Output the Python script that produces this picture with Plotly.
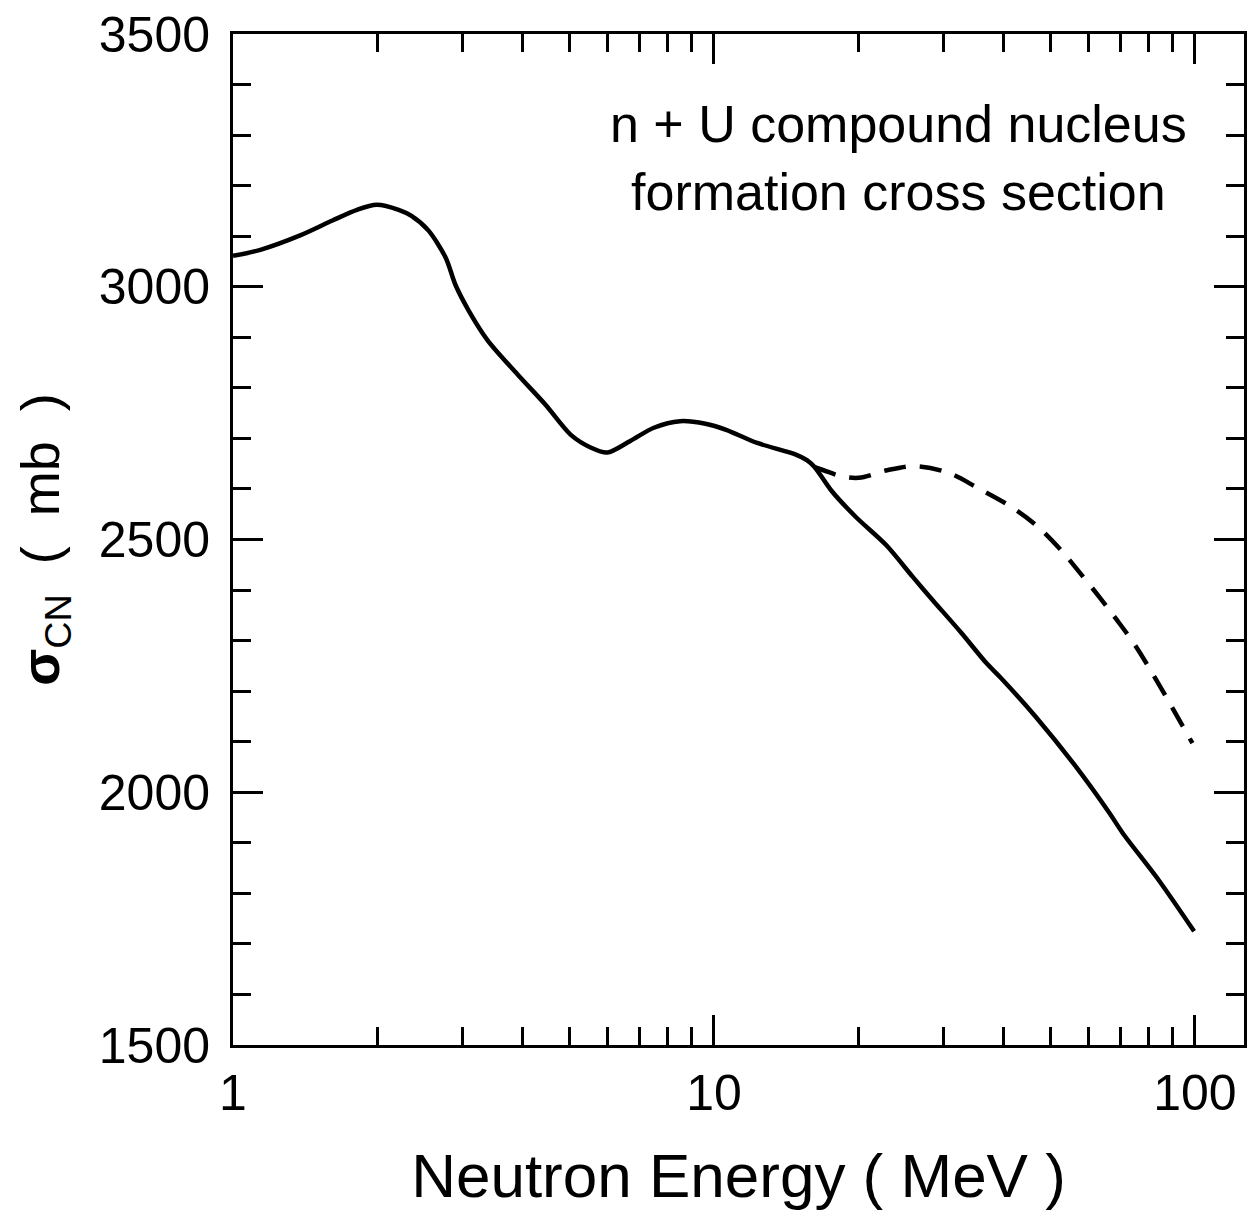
import plotly.graph_objects as go

# Solid curve: compound nucleus formation cross section
energy_solid = [1.0, 1.14, 1.375, 1.61, 1.81, 1.99, 2.21, 2.35, 2.55, 2.77, 2.90, 3.09, 3.39,
                3.91, 4.46, 5.04, 5.54, 6.0, 6.7, 7.5, 8.5, 9.6, 10.6, 12.3, 14.8, 15.6,
                16.2, 17.5, 19.7, 22.8, 25.9, 28.5, 32.7, 36.8, 39.5, 46.7, 56.2, 66.4,
                70.8, 84.1, 99.6]
sigma_solid = [3061, 3073, 3101, 3131, 3152, 3162, 3152, 3140, 3111, 3057, 3004, 2953, 2893,
               2826, 2767, 2707, 2682, 2672, 2695, 2721, 2734, 2729, 2717, 2691, 2668, 2657,
               2643, 2598, 2545, 2489, 2426, 2380, 2315, 2256, 2226, 2149, 2054, 1959,
               1919, 1826, 1725]

# Dashed curve: alternative high-energy branch
energy_dashed = [16.2, 16.9, 18.3, 20.0, 22.9, 26.1, 30.7, 35.5, 41.6, 46.9, 52.4, 57.0,
                 63.3, 68.8, 75.2, 81.6, 90.0, 98.8]
sigma_dashed = [2643, 2637, 2626, 2622, 2637, 2645, 2632, 2601, 2564, 2527, 2481, 2440,
                2386, 2341, 2290, 2235, 2165, 2097]

x_tickvals = [1, 10, 100]
x_ticktext = ["1", "10", "100"]
y_tickvals = [1500, 2000, 2500, 3000, 3500]
y_ticktext = ["1500", "2000", "2500", "3000", "3500"]

FONT = "Liberation Sans Narrow, Arial Narrow, Liberation Sans, Arial, sans-serif"

fig = go.Figure()
fig.add_trace(go.Scatter(x=energy_solid, y=sigma_solid, mode="lines",
                         line=dict(color="black", width=4.5, shape="spline", smoothing=0.8),
                         showlegend=False))
fig.add_trace(go.Scatter(x=energy_dashed, y=sigma_dashed, mode="lines",
                         line=dict(color="black", width=4.5, dash="22px,14px",
                                   shape="spline", smoothing=1.0),
                         showlegend=False))

axis_common = dict(showline=True, linecolor="black", linewidth=3, mirror="ticks",
                   ticks="inside", ticklen=30, tickwidth=3, tickcolor="black",
                   showgrid=False, zeroline=False,
                   tickfont=dict(family=FONT, size=50, color="black"))

fig.update_xaxes(type="log", range=[0, 2.102], tickvals=x_tickvals, ticktext=x_ticktext,
                 minor=dict(ticks="inside", ticklen=18, tickwidth=3, tickcolor="black",
                            dtick="D1", showgrid=False),
                 ticklabelstandoff=2,
                 title=dict(text="Neutron Energy ( MeV )",
                            font=dict(family=FONT, size=62, color="black"), standoff=34),
                 **axis_common)
fig.update_yaxes(range=[1500, 3500], tickvals=y_tickvals, ticktext=y_ticktext,
                 minor=dict(ticks="inside", ticklen=18, tickwidth=3, tickcolor="black",
                            dtick=100, showgrid=False),
                 ticklabelstandoff=10,
                 title=dict(text="<b>σ</b><sub>CN</sub>  (  mb  )",
                            font=dict(family=FONT, size=54, color="black"), standoff=22),
                 **axis_common)

fig.add_annotation(xref="paper", yref="paper", x=0.658, y=0.877, xanchor="center",
                   yanchor="middle", showarrow=False, align="center",
                   text="n + U compound nucleus<br>formation cross section",
                   font=dict(family=FONT, size=52, color="black"))

fig.update_layout(width=1252, height=1219, margin=dict(l=233, r=5, t=34, b=174),
                  paper_bgcolor="white", plot_bgcolor="white")

fig.write_html("out.html")
